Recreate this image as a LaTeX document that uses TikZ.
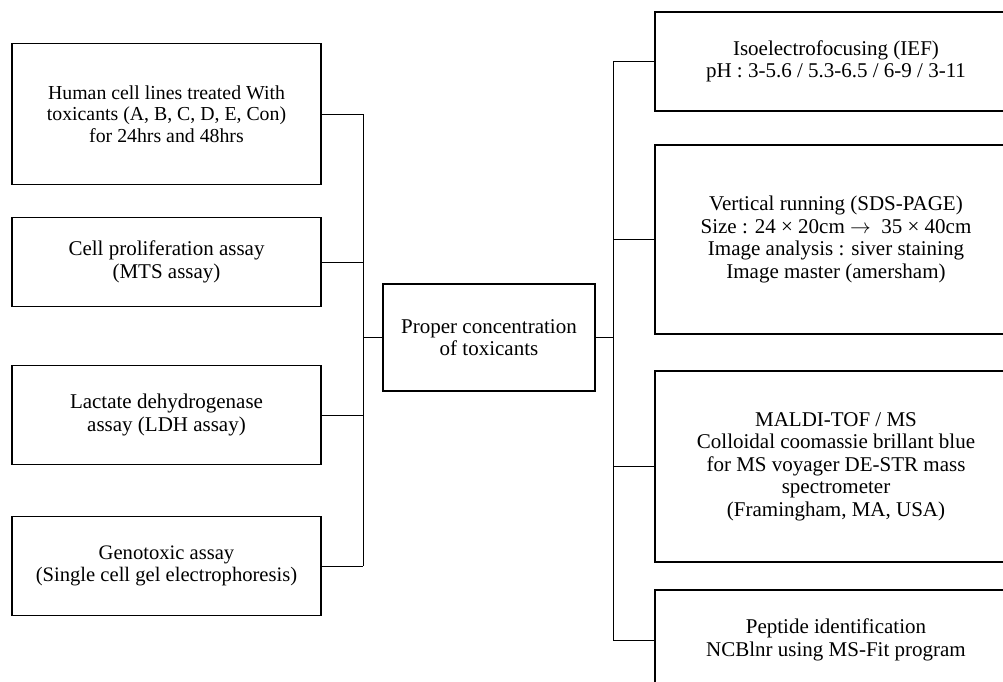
\documentclass[tikz,border=0pt]{standalone}
\usepackage{fontspec}
\setmainfont{Liberation Serif}
\begin{document}
\begin{tikzpicture}[x=1pt,y=-1pt,
  box/.style={draw,line width=1.3pt,rectangle,align=center,inner sep=0pt,
    font=\fontsize{21}{22.5}\selectfont},
  lbox/.style={box,minimum width=309pt},
  rbox/.style={box,minimum width=362pt},
  conn/.style={line width=1pt}]
\useasboundingbox (0,0) rectangle (1003,681);
\clip (0,0) rectangle (1003,681);
\fill[white] (0,0) rectangle (1003,681);
% left column
\node[lbox,minimum height=141pt,font=\fontsize{19.8}{21.5}\selectfont] (L1) at (166.5,114) {Human cell lines treated With\\toxicants (A, B, C, D, E, Con)\\for 24hrs and 48hrs};
\node[lbox,minimum height=89pt] (L2) at (166.5,262) {Cell proliferation assay\\(MTS assay)};
\node[lbox,minimum height=99pt] (L3) at (166.5,415) {Lactate dehydrogenase\\assay (LDH assay)};
\node[lbox,minimum height=99pt,font=\fontsize{20.6}{22.5}\selectfont] (L4) at (166.5,566) {Genotoxic assay\\(Single cell gel electrophoresis)};
% center
\node[box,minimum width=212pt,minimum height=107pt] (C) at (489,337.5) {Proper concentration\\of toxicants};
% right column
\node[rbox,minimum height=99pt] (R1) at (836,61.5) {Isoelectrofocusing (IEF)\\pH : 3-5.6 / 5.3-6.5 / 6-9 / 3-11};
\node[rbox,minimum height=189pt] (R2) at (836,239.5) {Vertical running (SDS-PAGE)\\Size : 24 × 20cm $\rightarrow$ \ 35 × 40cm\\Image analysis : siver staining\\Image master (amersham)};
\node[rbox,minimum height=191pt] (R3) at (836,466.5) {MALDI-TOF / MS\\Colloidal coomassie brillant blue\\for MS voyager DE-STR mass\\spectrometer\\(Framingham, MA, USA)};
\node[rbox,minimum height=100pt] (R4) at (836,640) {Peptide identification\\NCBlnr using MS-Fit program};
% junctions
\coordinate (jl) at (363,0);
\coordinate (jr) at (613,0);
\draw[conn] (L1.east) -- (L1.east -| jl);
\draw[conn] (L2.east) -- (L2.east -| jl);
\draw[conn] (L3.east) -- (L3.east -| jl);
\draw[conn] (L4.east) -- (L4.east -| jl);
\draw[conn] (L1.east -| jl) -- (L4.east -| jl);
\draw[conn] (C.west) -- (C.west -| jl);
\draw[conn] (C.east) -- (C.east -| jr);
\draw[conn] (R1.west -| jr) -- (R4.west -| jr);
\draw[conn] (R1.west -| jr) -- (R1.west);
\draw[conn] (R2.west -| jr) -- (R2.west);
\draw[conn] (R3.west -| jr) -- (R3.west);
\draw[conn] (R4.west -| jr) -- (R4.west);
\end{tikzpicture}
\end{document}
